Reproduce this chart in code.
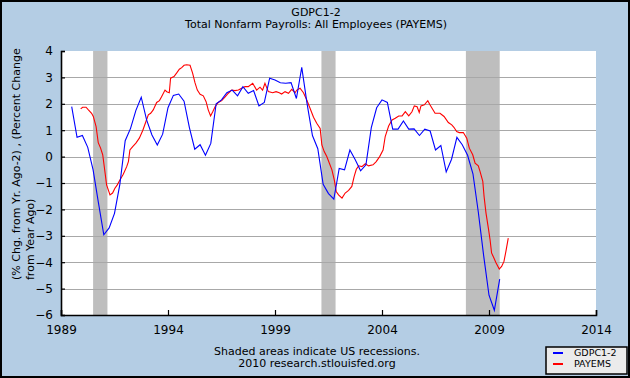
<!DOCTYPE html>
<html>
<head>
<meta charset="utf-8">
<script src="https://cdn.jsdelivr.net/npm/d3@7"></script>
<style>
    body { margin: 0; background: #ffffff; }
    text { font-family: "DejaVu Sans", Verdana, sans-serif; fill: #000000; }
</style>
</head>
<body>
<div id="chart-holder"></div>
<script>
// gdp series, quarterly from 1989 q3 (percent change from year ago, minus 2)
var gdpStart = 1989.5;
var gdpValues = [
    1.89, 0.73,
    0.80, 0.35, -0.50, -1.75,
    -2.96, -2.70, -2.15, -1.05,
    0.60, 1.07, 1.75, 2.25,
    1.39, 0.82, 0.44, 0.85,
    1.85, 2.32, 2.37, 2.10,
    1.10, 0.28, 0.45, 0.05,
    0.50, 2.00, 2.15, 2.42,
    2.52, 2.30, 2.65, 2.40,
    2.50, 1.92, 2.05, 2.97,
    2.90, 2.80, 2.78, 2.80,
    2.20, 3.38, 2.00, 0.80,
    0.30, -1.05, -1.40, -1.61,
    -0.45, -0.50, 0.25, -0.12,
    -0.54, -0.31, 1.10, 1.85,
    2.15, 2.05, 1.04, 1.04,
    1.35, 1.04, 1.05, 0.80,
    1.04, 0.97, 0.25, 0.42,
    -0.58, -0.10, 0.73, 0.45,
    0.05, -0.65, -2.10, -3.75,
    -5.25, -5.82, -4.64
];

// payrolls series (percent change from year ago), dates as decimal years
var payemsYears = [
    1989.92, 1990.01, 1990.17, 1990.28, 1990.43, 1990.51, 1990.64, 1990.74, 1990.85, 1990.95,
    1991.06, 1991.13, 1991.21, 1991.29, 1991.41, 1991.52, 1991.63, 1991.76, 1991.91,
    1992.07, 1992.15, 1992.22, 1992.35, 1992.50, 1992.66, 1992.82, 1992.97,
    1993.08, 1993.19, 1993.31, 1993.47, 1993.60, 1993.70, 1993.86, 1993.94,
    1994.06, 1994.12, 1994.28, 1994.40, 1994.53, 1994.64, 1994.75, 1994.87,
    1995.03, 1995.15, 1995.26, 1995.37, 1995.50, 1995.65, 1995.78, 1995.88, 1995.99,
    1996.09, 1996.20, 1996.35, 1996.51, 1996.66, 1996.82, 1996.97,
    1997.13, 1997.29, 1997.44, 1997.60, 1997.75, 1997.96,
    1998.14, 1998.30, 1998.42, 1998.53, 1998.69, 1998.89,
    1999.05, 1999.20, 1999.31, 1999.47, 1999.63, 1999.78, 1999.94,
    2000.02, 2000.17, 2000.33, 2000.48, 2000.61, 2000.80, 2000.95,
    2001.11, 2001.19, 2001.30, 2001.42, 2001.55, 2001.66, 2001.77, 2001.86, 2001.97,
    2002.13, 2002.28, 2002.44, 2002.59, 2002.70, 2002.80, 2002.91,
    2003.06, 2003.22, 2003.37, 2003.58, 2003.73, 2003.89,
    2004.05, 2004.15, 2004.31, 2004.47, 2004.62, 2004.78, 2004.94,
    2005.09, 2005.25, 2005.40, 2005.51, 2005.64, 2005.74, 2005.82, 2005.98,
    2006.14, 2006.24, 2006.48, 2006.71, 2006.90,
    2007.10, 2007.26, 2007.36, 2007.49, 2007.61, 2007.80, 2007.96,
    2008.08, 2008.24, 2008.35, 2008.50, 2008.58, 2008.71, 2008.77, 2008.86, 2008.97,
    2009.05, 2009.12, 2009.23, 2009.32, 2009.48, 2009.59, 2009.70, 2009.79, 2009.90
];
var payemsValues = [
    1.81, 1.87, 1.87, 1.77, 1.64, 1.52, 1.14, 0.53, 0.32, 0.07,
    -0.62, -1.07, -1.26, -1.45, -1.38, -1.20, -1.07, -0.88, -0.67,
    -0.38, -0.19, 0.25, 0.38, 0.51, 0.70, 0.99, 1.33,
    1.58, 1.64, 1.77, 2.05, 2.12, 2.27, 2.52, 2.46,
    2.42, 2.97, 3.03, 3.16, 3.31, 3.37, 3.46, 3.48,
    3.46, 3.16, 2.80, 2.52, 2.36, 2.30, 2.08, 1.77, 1.54,
    1.70, 1.89, 2.05, 2.12, 2.25, 2.40, 2.52,
    2.50, 2.52, 2.59, 2.65, 2.65, 2.78,
    2.52, 2.63, 2.52, 2.78, 2.46, 2.42,
    2.46, 2.42, 2.37, 2.46, 2.40, 2.55, 2.42,
    2.52, 2.59, 2.42, 2.15, 1.89, 1.49, 1.26,
    1.07, 0.44, 0.19, 0.00, -0.27, -0.50, -0.88, -1.32, -1.45,
    -1.57, -1.38, -1.28, -1.13, -0.75, -0.48, -0.35,
    -0.38, -0.27, -0.35, -0.31, -0.19, 0.00,
    0.25, 0.76, 1.16, 1.39, 1.45, 1.54, 1.54,
    1.70, 1.54, 1.70, 1.92, 1.89, 1.67, 1.92, 1.96,
    2.12, 1.96, 1.64, 1.64, 1.52,
    1.29, 1.20, 1.11, 0.95, 0.91, 0.91, 0.70,
    0.32, 0.07, -0.25, -0.35, -0.56, -0.94, -1.51, -2.14, -2.71,
    -3.15, -3.65, -3.84, -4.01, -4.26, -4.16, -3.97, -3.59, -3.09
];

// recessions (start, end) in decimal years
var recessionStarts = [1990.5, 2001.17, 2007.92];
var recessionEnds = [1991.17, 2001.83, 2009.5];

// axis ticks
var yTicks = [4, 3, 2, 1, 0, -1, -2, -3, -4, -5, -6];
var xTicks = [1989, 1994, 1999, 2004, 2009, 2014];

var seriesNames = ['GDPC1-2', 'PAYEMS'];
var seriesColors = ['#0000ff', '#ff0000'];

function buildChart(containerId) {
    // size globals
    var width = 630;
    var height = 378;

    var margin = {
        top: 51,
        right: 34,
        bottom: 63,
        left: 61
    };

    var innerWidth = width - margin.left - margin.right;
    var innerHeight = height - margin.top - margin.bottom;

    var svg = d3
        .select(containerId)
        .append('svg')
        .attr('width', width)
        .attr('height', height);

    // page background with black frame
    svg
        .append('rect')
        .attr('x', 1)
        .attr('y', 1)
        .attr('width', width - 2)
        .attr('height', height - 2)
        .attr('fill', '#b4cde4')
        .attr('stroke', '#000000')
        .attr('stroke-width', 2);

    var g = svg
        .append('g')
        .attr('transform', 'translate(' + margin.left + ',' + margin.top + ')');

    // scales
    var x = d3
        .scaleLinear()
        .domain([1989, 2014])
        .range([0, innerWidth]);

    var y = d3
        .scaleLinear()
        .domain([-6, 4])
        .range([innerHeight, 0]);

    // plot area
    g
        .append('rect')
        .attr('width', innerWidth)
        .attr('height', innerHeight)
        .attr('fill', '#ffffff');

    // recession bars
    g
        .selectAll('.recession')
        .data(recessionStarts)
        .enter()
        .append('rect')
        .attr('class', 'recession')
        .attr('x', function(d) {
            return x(d);
        })
        .attr('y', 0)
        .attr('width', function(d, i) {
            return x(recessionEnds[i]) - x(d);
        })
        .attr('height', innerHeight)
        .attr('fill', '#bebebe');

    // gridlines
    g
        .selectAll('.grid')
        .data(yTicks.filter(function(d) { return d > -6 && d < 4; }))
        .enter()
        .append('line')
        .attr('class', 'grid')
        .attr('x1', 0)
        .attr('x2', innerWidth)
        .attr('y1', function(d) { return Math.round(y(d)) + 0.5; })
        .attr('y2', function(d) { return Math.round(y(d)) + 0.5; })
        .attr('stroke', '#a8a8a8')
        .attr('stroke-width', 1.2);

    // lines
    var gdpData = gdpValues.map(function(v, i) {
        return { t: gdpStart + i * 0.25, v: v };
    });
    var payemsData = payemsValues.map(function(v, i) {
        return { t: payemsYears[i], v: v };
    });

    var line = d3
        .line()
        .x(function(d) { return x(d.t); })
        .y(function(d) { return y(d.v); });

    g
        .append('path')
        .datum(payemsData)
        .attr('d', line)
        .attr('fill', 'none')
        .attr('stroke', seriesColors[1])
        .attr('stroke-width', 1.1);

    g
        .append('path')
        .datum(gdpData)
        .attr('d', line)
        .attr('fill', 'none')
        .attr('stroke', seriesColors[0])
        .attr('stroke-width', 1.1);

    // axes
    var yAxis = d3
        .axisLeft(y)
        .tickValues(yTicks)
        .tickSize(-4)
        .tickPadding(8)
        .tickFormat(d3.format('d'));

    g
        .append('g')
        .attr('class', 'y-axis')
        .call(yAxis);

    var xAxis = d3
        .axisBottom(x)
        .tickValues(xTicks)
        .tickSize(-5)
        .tickPadding(8)
        .tickFormat(d3.format('d'));

    var xg = g
        .append('g')
        .attr('class', 'x-axis')
        .attr('transform', 'translate(0,' + innerHeight + ')')
        .call(xAxis);

    g.selectAll('.y-axis .domain, .x-axis .domain')
        .attr('stroke', '#000000')
        .attr('stroke-width', 1.6);
    g.selectAll('.tick line')
        .attr('stroke', '#000000')
        .attr('stroke-width', 1.2);
    g.selectAll('.tick text')
        .attr('fill', '#000000')
        .style('font-family', '"DejaVu Sans", Verdana, sans-serif')
        .style('font-size', '12px');

    // x labels sit just under the bottom edge
    xg.selectAll('.tick text').attr('dy', '0.9em');

    // y axis label, two rotated lines
    var ylab = ['(% Chg. from Yr. Ago-2) , (Percent Change', 'from Year Ago)'];
    svg
        .selectAll('.y-axis-label')
        .data(ylab)
        .enter()
        .append('text')
        .attr('class', 'y-axis-label')
        .attr('transform', function(d, i) {
            return 'translate(' + (20 + i * 14) + ',280) rotate(-90)';
        })
        .attr('text-anchor', 'start')
        .style('font-size', '11px')
        .text(function(d) { return d; });

    // titles
    svg
        .append('text')
        .attr('x', 316)
        .attr('y', 16)
        .attr('text-anchor', 'middle')
        .style('font-size', '11px')
        .text('GDPC1-2');

    svg
        .append('text')
        .attr('x', 316)
        .attr('y', 28)
        .attr('text-anchor', 'middle')
        .style('font-size', '11px')
        .text('Total Nonfarm Payrolls: All Employees (PAYEMS)');

    // footer
    svg
        .append('text')
        .attr('x', 317)
        .attr('y', 355)
        .attr('text-anchor', 'middle')
        .style('font-size', '11px')
        .text('Shaded areas indicate US recessions.');

    svg
        .append('text')
        .attr('x', 317)
        .attr('y', 367)
        .attr('text-anchor', 'middle')
        .style('font-size', '11px')
        .text('2010 research.stlouisfed.org');

    // legend
    var legend = svg
        .append('g')
        .attr('class', 'legend')
        .attr('transform', 'translate(546,347)');

    legend
        .append('rect')
        .attr('width', 81)
        .attr('height', 27)
        .attr('fill', '#ebebeb')
        .attr('stroke', '#000000')
        .attr('stroke-width', 1.5);

    var items = legend
        .selectAll('.item')
        .data(seriesNames)
        .enter()
        .append('g')
        .attr('class', 'item')
        .attr('transform', function(d, i) {
            return 'translate(0,' + (6 + i * 11) + ')';
        });

    items
        .append('line')
        .attr('x1', 7)
        .attr('x2', 17)
        .attr('y1', 0)
        .attr('y2', 0)
        .attr('stroke', function(d, i) { return seriesColors[i]; })
        .attr('stroke-width', 2);

    items
        .append('text')
        .attr('x', 28)
        .attr('y', 0)
        .attr('dy', '0.35em')
        .style('font-size', '9.5px')
        .text(function(d) { return d; });
}

buildChart('#chart-holder');
</script>
</body>
</html>
